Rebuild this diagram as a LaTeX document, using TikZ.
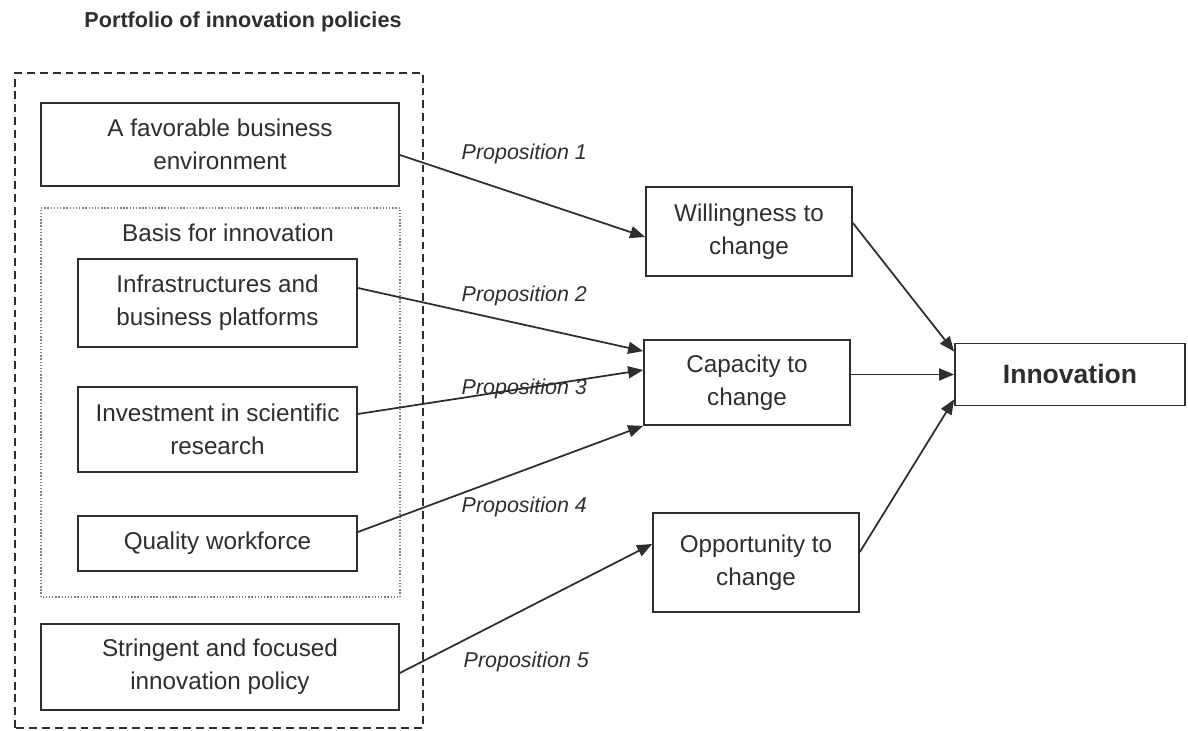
\documentclass[tikz,border=0pt]{standalone}
\usepackage{fontspec}
\setmainfont{Liberation Sans}
\usetikzlibrary{arrows.meta}
\definecolor{ink}{HTML}{2E2E2E}
\tikzset{
  box/.style={draw=ink, line width=1pt, align=center, text=ink, inner sep=2pt,
    font=\fontsize{13.8pt}{18.8pt}\selectfont},
  prop/.style={anchor=west, text=ink, font=\fontsize{12.2pt}{14pt}\selectfont\itshape},
}

\begin{document}
\begin{tikzpicture}[>={Triangle[length=3mm, width=2.4mm]}, line width=1pt]
  \useasboundingbox (0,0) rectangle (23.76,14.62);

  % Portfolio frame and its inner group
  \draw[ink, dash pattern=on 4.5pt off 2.8pt] (0.30,0.06) rectangle (8.46,13.16);
  \draw[gray, line width=0.8pt, densely dotted] (0.82,2.68) rectangle (8.00,10.46);
  \node[text=ink, font=\fontsize{12.3pt}{14pt}\selectfont\bfseries] (title) at (4.86,14.18) {Portfolio of innovation policies};
  \node[text=ink, font=\fontsize{13.8pt}{16pt}\selectfont] (basis) at (4.56,9.96) {Basis for innovation};

  % Define the policy boxes
  \node[box, minimum width=7.16cm, minimum height=1.66cm] (fav) at (4.40,11.73) {A favorable business\\environment};
  \node[box, minimum width=5.58cm, minimum height=1.76cm] (infra) at (4.35,8.56) {Infrastructures and\\business platforms};
  \node[box, minimum width=5.58cm, minimum height=1.70cm] (invest) at (4.35,6.03) {Investment in scientific\\research};
  \node[box, minimum width=5.58cm, minimum height=1.10cm] (work) at (4.35,3.75) {Quality workforce};
  \node[box, minimum width=7.16cm, minimum height=1.72cm] (policy) at (4.40,1.28) {Stringent and focused\\innovation policy};

  % Define the drivers and the outcome
  \node[box, minimum width=4.12cm, minimum height=1.78cm] (will) at (14.98,9.99) {Willingness to\\change};
  \node[box, minimum width=4.12cm, minimum height=1.70cm] (cap) at (14.94,6.97) {Capacity to\\change};
  \node[box, minimum width=4.12cm, minimum height=1.98cm] (opp) at (15.12,3.37) {Opportunity to\\change};
  \node[box, minimum width=4.60cm, minimum height=1.24cm, font=\fontsize{15.1pt}{18pt}\selectfont\bfseries] (inn) at (21.40,7.13) {Innovation};

  % Draw the propositions
  \draw[->, ink] ([yshift=-2.1mm]fav.east) to ([yshift=-1.1mm]will.west);
  \draw[->, ink] ([yshift=3mm]infra.east) to ([yshift=-2.4mm]cap.north west);
  \draw[->, ink] ([yshift=3.1mm]invest.east) to ([yshift=2.5mm]cap.west);
  \draw[->, ink] ([yshift=2.3mm]work.east) to (cap.south west);
  \draw[->, ink] ([yshift=-1.2mm]policy.east) to ([yshift=3.7mm]opp.west);

  \node[prop] (p1) at (9.10,11.54) {Proposition 1};
  \node[prop] (p2) at (9.10,8.70) {Proposition 2};
  \node[prop] (p3) at (9.10,6.84) {Proposition 3};
  \node[prop] (p4) at (9.10,4.48) {Proposition 4};
  \node[prop] (p5) at (9.14,1.38) {Proposition 5};

  % Draw the arcs into innovation
  \draw[->, ink] ([yshift=1.7mm]will.east) to ([yshift=-1.8mm]inn.north west);
  \draw[->, ink] (cap.east |- inn.west) to (inn.west);
  \draw[->, ink] ([yshift=2.1mm]opp.east) to ([yshift=1.4mm]inn.south west);
\end{tikzpicture}
\end{document}
